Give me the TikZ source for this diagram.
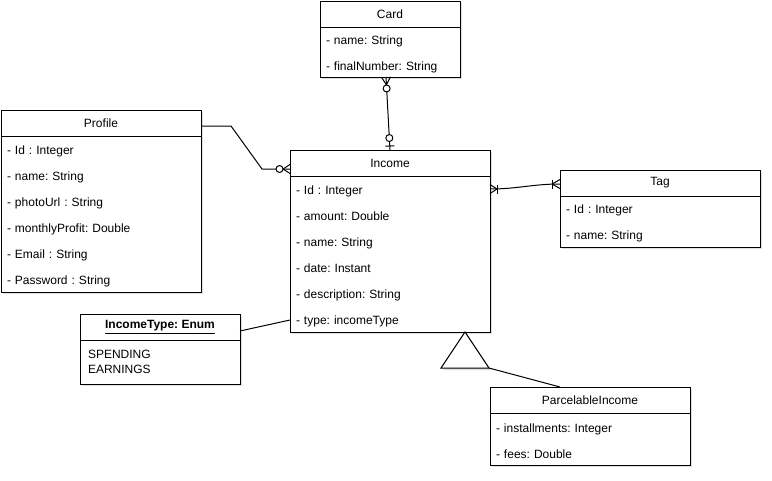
\documentclass[tikz,border=0pt]{standalone}
\usepackage{fontspec}
\setmainfont{Liberation Sans}
\frenchspacing
\usetikzlibrary{arrows.meta, positioning, shadows, decorations.markings}

\begin{document}
\begin{tikzpicture}[x=1pt, y=-1pt, line width=1pt,
    shade/.style={drop shadow={shadow xshift=2pt, shadow yshift=-2pt, opacity=0.25}},
    head/.style={draw, fill=white, shade, outer sep=0pt, minimum height=26pt, inner sep=0pt, anchor=north west, font=\fontsize{12}{14}\selectfont},
    body/.style={draw, fill=white, shade, outer sep=0pt, inner xsep=6pt, inner ysep=0pt, align=left, font=\fontsize{12}{26}\selectfont},
    items/.style={body, execute at begin node={\rule{0pt}{13pt}}},
    zmanyEnd/.style={postaction={decorate, decoration={markings, mark=at position 1 with {
        \draw[line width=1pt] (-7pt,0) -- (0,4.5pt) (-7pt,0) -- (0,-4.5pt);
        \draw[line width=1pt, fill=white] (-10.5pt,0) circle (3.5pt);}}}},
    zmanyStart/.style={postaction={decorate, decoration={markings, mark=at position 0 with {
        \draw[line width=1pt] (8pt,0) -- (0,4.5pt) (8pt,0) -- (0,-4.5pt);
        \draw[line width=1pt, fill=white] (11.5pt,0) circle (3.5pt);}}}},
    zoneEnd/.style={postaction={decorate, decoration={markings, mark=at position 1 with {
        \draw[line width=1pt] (-4pt,4.5pt) -- (-4pt,-4.5pt);
        \draw[line width=1pt, fill=white] (-12pt,0) circle (3.5pt);}}}},
    omanyEnd/.style={postaction={decorate, decoration={markings, mark=at position 1 with {
        \draw[line width=1pt] (-8pt,0) -- (0,4.5pt) (-8pt,0) -- (0,-4.5pt);
        \draw[line width=1pt] (-8pt,4.5pt) -- (-8pt,-4.5pt);}}}},
    omanyStart/.style={postaction={decorate, decoration={markings, mark=at position 0 with {
        \draw[line width=1pt] (7pt,0) -- (0,4.5pt) (7pt,0) -- (0,-4.5pt);
        \draw[line width=1pt] (7pt,4.5pt) -- (7pt,-4.5pt);}}}}
]
\useasboundingbox (0,0) rectangle (772,480);

% Card
\node[head, minimum width=140pt] (card) at (320,1) {Card};
\node[items, below=0pt of card, text width=128pt, minimum height=50pt] (cardB) {- name: String\\- finalNumber: String};

% Profile
\node[head, minimum width=200pt] (profile) at (1,110) {Profile};
\node[items, below=0pt of profile, text width=188pt, minimum height=156pt] (profileB) {- Id : Integer\\- name: String\\- photoUrl : String\\- monthlyProfit: Double\\- Email : String\\- Password : String};

% Income
\node[head, minimum width=200pt] (income) at (290,150) {Income};
\node[items, below=0pt of income, text width=188pt, minimum height=156pt] (incomeB) {- Id : Integer\\- amount: Double\\- name: String\\- date: Instant\\- description: String\\- type: incomeType};

% Tag
\node[head, minimum width=200pt] (tag) at (560,170) {Tag};
\node[items, below=0pt of tag, text width=188pt, minimum height=51pt] (tagB) {- Id : Integer\\- name: String};

% IncomeType enum
\node[head, minimum width=160pt] (etype) at (80,314) {\textbf{\underline{IncomeType: Enum}}};
\node[body, below=0pt of etype, inner xsep=8pt, text width=144pt, minimum height=44pt, font=\fontsize{12}{15}\selectfont] (etypeB) {SPENDING\\EARNINGS};

% ParcelableIncome
\node[head, minimum width=200pt] (parcel) at (490,387) {ParcelableIncome};
\node[items, below=0pt of parcel, text width=188pt, minimum height=52pt] (parcelB) {- installments: Integer\\- fees: Double};

% Relations
\coordinate (incomeIn) at ([yshift=-19pt]income.north west);
\draw[zmanyEnd] ([yshift=-3pt]profile.east) -- ++(30,0) -- ([xshift=-28pt]incomeIn) -- (incomeIn);
\draw[zmanyStart, zoneEnd] ([xshift=-4pt]cardB.south) -- (income.north);
\draw[omanyStart, omanyEnd] ([yshift=-39pt]income.north east) to[out=0, in=180] ([yshift=-1pt]tag.west);
\draw ([yshift=9pt]etypeB.north east) -- ([yshift=12pt]incomeB.south west);

% Generalisation
\draw ([xshift=99pt,yshift=-36pt]incomeB.south) coordinate (genR) -- ([xshift=-30pt]parcel.north);
\draw[fill=white, shade] ([xshift=75pt]incomeB.south) -- ++(-24,36) -- ++(48,0) -- cycle;

\end{tikzpicture}
\end{document}
